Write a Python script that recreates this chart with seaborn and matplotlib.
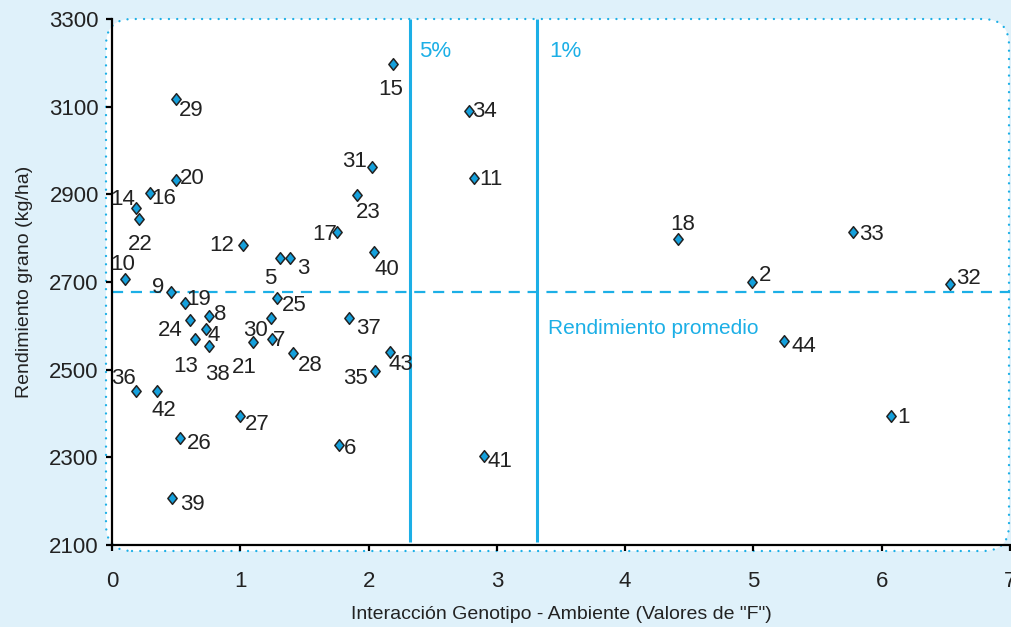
import matplotlib
matplotlib.use('Agg')
import matplotlib.pyplot as plt
from matplotlib.patches import FancyBboxPatch
from matplotlib.path import Path
import pandas as pd
import seaborn as sns

# Datos: genotipo, valor F (interaccion GxA), rendimiento (kg/ha)
genotipos = list(range(1, 45))
valor_f = [6.07, 4.99, 1.39, 0.73, 1.31, 1.77, 1.25, 0.76, 0.46, 0.10,
           2.82, 1.02, 0.65, 0.19, 2.19, 0.30, 1.75, 4.41, 0.57, 0.50,
           1.10, 0.21, 1.91, 0.61, 1.29, 0.53, 1.00, 1.41, 0.50, 1.24,
           2.03, 6.53, 5.78, 2.78, 2.05, 0.19, 1.85, 0.76, 0.47, 2.04,
           2.90, 0.35, 2.17, 5.24]
rendimiento = [2395, 2699, 2754, 2592, 2754, 2328, 2571, 2622, 2677, 2707,
               2937, 2784, 2571, 2869, 3197, 2903, 2813, 2797, 2652, 2933,
               2562, 2844, 2899, 2614, 2664, 2344, 2395, 2537, 3117, 2617,
               2963, 2695, 2813, 3091, 2498, 2451, 2617, 2554, 2208, 2769,
               2302, 2451, 2541, 2566]

rend_promedio = 2677
f_5 = 2.32
f_1 = 3.31

x_ticks = [0, 1, 2, 3, 4, 5, 6, 7]
y_ticks = [2100, 2300, 2500, 2700, 2900, 3100, 3300]

# posicion de cada etiqueta respecto a su punto (pixeles)
offsets = {
    1: (13, 1), 2: (12.7, 9.7), 3: (13.3, -8), 4: (7.7, -4), 5: (-10, -18),
    6: (10.7, -1.3), 7: (7, 1), 8: (10.7, 4.3), 9: (-13.3, 7.3), 10: (-1.7, 17.3),
    11: (17.3, 1), 12: (-20.7, 2.3), 13: (-9.7, -25.3), 14: (-13.3, 11), 15: (-2, -23),
    16: (13.3, -3.3), 17: (-12.3, 0.7), 18: (5.3, 17.3), 19: (13.3, 5.7), 20: (15.7, 4.3),
    21: (-8.7, -23), 22: (1.3, -23.3), 23: (11.3, -15.3), 24: (-19.7, -8), 25: (17, -5),
    26: (19, -3.3), 27: (17, -6), 28: (17, -9.3), 29: (15.3, -9), 30: (-15.7, -9.7),
    31: (-17.7, 7.7), 32: (19, 8), 33: (18, 0), 34: (16, 1.7), 35: (-19.7, -5),
    36: (-12.7, 15), 37: (18.7, -8), 38: (8.3, -26), 39: (20.3, -4), 40: (12.7, -15.7),
    41: (16, -2.3), 42: (7, -16.7), 43: (10.7, -10.7), 44: (19.3, -3.7),
}

df = pd.DataFrame({'genotipo': genotipos, 'F': valor_f, 'rend': rendimiento})

sns.set_style('ticks')
plt.rcParams['font.family'] = ['Liberation Sans', 'DejaVu Sans']

fondo = '#dff1fa'
cian = '#1cafe6'
texto = '#222222'

# rombo algo mas alto que ancho
rombo = Path([(0, 1), (0.8, 0), (0, -1), (-0.8, 0), (0, 1)],
             [Path.MOVETO, Path.LINETO, Path.LINETO, Path.LINETO, Path.CLOSEPOLY])

fig = plt.figure(figsize=(10.11, 6.27), dpi=100, facecolor=fondo)

# recuadro blanco redondeado con borde punteado
caja = FancyBboxPatch((1.06, 0.76), 9.03, 5.32,
                      boxstyle='round,pad=0,rounding_size=0.26',
                      transform=fig.dpi_scale_trans, facecolor='white',
                      edgecolor=cian, linewidth=1.7,
                      linestyle=(0, (0.01, 3.5)), capstyle='round', zorder=0)
fig.patches.append(caja)

ax = fig.add_axes([112 / 1011, (627 - 545) / 627, (1010 - 112) / 1011, (545 - 19) / 627])
ax.set_facecolor('none')
ax.set_zorder(2)

ax.axhline(rend_promedio, color=cian, lw=1.6, ls=(0, (5, 3.5)), zorder=1)
ax.vlines([f_5, f_1], 2107, 3300, color=cian, lw=2.2, zorder=1)

sns.scatterplot(data=df, x='F', y='rend', marker=rombo, s=70, color='#14a0dc',
                edgecolor=texto, linewidth=1.1, ax=ax, zorder=3, legend=False)

for g, xv, yv in zip(genotipos, valor_f, rendimiento):
    dx, dy = offsets[g]
    ax.annotate(str(g), (xv, yv), xytext=(dx, dy), textcoords='offset pixels',
                ha='center', va='center_baseline', fontsize=16, color=texto)

ax.text(2.39, 3232, '5%', color=cian, fontsize=16, ha='left', va='center_baseline')
ax.text(3.41, 3232, '1%', color=cian, fontsize=16, ha='left', va='center_baseline')
ax.text(3.40, 2598, 'Rendimiento promedio', color=cian, fontsize=15,
        ha='left', va='center_baseline')

ax.set_xlim(0, 7)
ax.set_ylim(2100, 3300)
ax.set_xticks(x_ticks)
ax.set_yticks(y_ticks)
ax.tick_params(axis='both', direction='out', length=4.5, width=1.6, labelsize=16,
               color='black', labelcolor=texto)
ax.tick_params(axis='x', pad=14)
ax.tick_params(axis='y', pad=5)
sns.despine(ax=ax)
for s in ['left', 'bottom']:
    ax.spines[s].set_linewidth(1.6)
    ax.spines[s].set_color('black')

ax.set_xlabel('Interacción Genotipo - Ambiente (Valores de "F")', fontsize=14,
              color=texto, labelpad=10)
ax.set_ylabel('Rendimiento grano (kg/ha)', fontsize=14, color=texto, labelpad=12)

fig.savefig('out.png', dpi=100, facecolor=fondo)
